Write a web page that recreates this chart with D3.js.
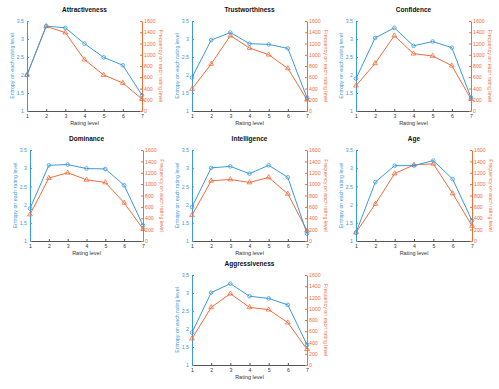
<!DOCTYPE html>
<head>
<meta charset="utf-8">
<title>Entropy and frequency per rating level</title>
<script src="https://d3js.org/d3.v7.min.js"></script>
<style>
    body { margin: 0; background: #fff; }
    text { font-family: "Liberation Sans", Arial, sans-serif; }
</style>
</head>
<body>
<script>
    // data
    var levels = [1, 2, 3, 4, 5, 6, 7];
    var titles = ["Attractiveness", "Trustworthiness", "Confidence", "Dominance", "Intelligence", "Age", "Aggressiveness"];

    var entAttr  = [2.00, 3.36, 3.31, 2.87, 2.49, 2.27, 1.44];
    var entTrust = [1.93, 2.97, 3.18, 2.87, 2.85, 2.74, 1.37];
    var entConf  = [1.90, 3.03, 3.31, 2.81, 2.93, 2.76, 1.37];
    var entDom   = [1.89, 3.08, 3.10, 2.99, 2.98, 2.53, 1.43];
    var entIntel = [1.93, 3.01, 3.05, 2.85, 3.08, 2.75, 1.20];
    var entAge   = [1.23, 2.62, 3.07, 3.07, 3.21, 2.70, 1.56];
    var entAggr  = [1.90, 3.01, 3.26, 2.91, 2.85, 2.67, 1.56];

    var freqAttr  = [640, 1505, 1393, 913, 640, 498, 213];
    var freqTrust = [391, 836, 1339, 1120, 1001, 758, 201];
    var freqConf  = [450, 847, 1339, 1019, 978, 806, 213];
    var freqDom   = [465, 1106, 1200, 1076, 1029, 671, 212];
    var freqIntel = [453, 1059, 1082, 1029, 1118, 829, 182];
    var freqAge   = [148, 652, 1185, 1339, 1357, 835, 267];
    var freqAggr  = [468, 1025, 1268, 1025, 984, 753, 279];

    var entTicks  = [1, 1.5, 2, 2.5, 3, 3.5];
    var freqTicks = [0, 200, 400, 600, 800, 1000, 1200, 1400, 1600];

    var entropy   = [entAttr, entTrust, entConf, entDom, entIntel, entAge, entAggr];
    var frequency = [freqAttr, freqTrust, freqConf, freqDom, freqIntel, freqAge, freqAggr];

    // plot boxes (left, right, top, bottom) for each panel
    var boxes = [
        [27, 142, 21, 111],
        [192, 307, 21, 111],
        [356, 471, 21, 111],
        [30, 143, 150, 241],
        [192, 307, 150, 241],
        [356, 472, 150, 241],
        [192, 307, 275, 365]
    ];

    var blue = "#3b9ad9";
    var orange = "#ef6d3b";
    var plain = function(d) { return String(d); };

    var svg = d3.select("body")
                .append("svg")
                .attr("width", 499)
                .attr("height", 389);

    titles.forEach(function(t, i) {
        var b = boxes[i];
        var g = svg.append("g");

        var x = d3.scaleLinear().domain([1, 7]).range([b[0], b[1]]);
        var yL = d3.scaleLinear().domain([1, 3.5]).range([b[3], b[2]]);
        var yR = d3.scaleLinear().domain([0, 1600]).range([b[3], b[2]]);

        // bottom axis
        var ax = g.append("g")
            .attr("transform", "translate(0," + b[3] + ")")
            .call(d3.axisBottom(x).tickValues(levels).tickFormat(plain).tickSize(-2).tickPadding(3).tickSizeOuter(0));
        ax.select(".domain").attr("stroke", "#555");
        ax.selectAll(".tick line").attr("stroke", "#555");
        ax.selectAll("text").style("font-size", "5.2px").attr("fill", "#333");

        // left axis
        var al = g.append("g")
            .attr("transform", "translate(" + b[0] + ",0)")
            .call(d3.axisLeft(yL).tickValues(entTicks).tickFormat(plain).tickSize(-2).tickPadding(3).tickSizeOuter(0));
        al.select(".domain").attr("stroke", blue);
        al.selectAll(".tick line").attr("stroke", blue);
        al.selectAll("text").style("font-size", "5.2px").attr("fill", blue);

        // right axis
        var ar = g.append("g")
            .attr("transform", "translate(" + b[1] + ",0)")
            .call(d3.axisRight(yR).tickValues(freqTicks).tickFormat(plain).tickSize(-2).tickPadding(2).tickSizeOuter(0));
        ar.select(".domain").attr("stroke", orange);
        ar.selectAll(".tick line").attr("stroke", orange);
        ar.selectAll("text").style("font-size", "5.2px").attr("fill", orange);

        // title
        g.append("text")
            .attr("x", (b[0] + b[1]) / 2)
            .attr("y", b[2] - 9)
            .attr("text-anchor", "middle")
            .style("font-size", "6.5px")
            .attr("font-weight", "bold")
            .attr("fill", "#111")
            .text(t);

        g.append("text")
            .attr("x", (b[0] + b[1]) / 2)
            .attr("y", b[3] + 14)
            .attr("text-anchor", "middle")
            .style("font-size", "5.5px")
            .attr("fill", "#333")
            .text("Rating level");

        g.append("text")
            .attr("transform", "translate(" + (b[0] - 13) + "," + ((b[2] + b[3]) / 2) + ") rotate(-90)")
            .attr("text-anchor", "middle")
            .style("font-size", "5.3px")
            .attr("fill", blue)
            .text("Entropy on each rating level");

        g.append("text")
            .attr("transform", "translate(" + (b[1] + 17) + "," + ((b[2] + b[3]) / 2) + ") rotate(90)")
            .attr("text-anchor", "middle")
            .style("font-size", "5.3px")
            .attr("fill", orange)
            .text("Frequency on each rating level");

        // frequency line
        var fLine = d3.line()
            .x(function(d, k) { return x(levels[k]); })
            .y(function(d) { return yR(d); });
        g.append("path")
            .datum(frequency[i])
            .attr("d", fLine)
            .attr("fill", "none")
            .attr("stroke", orange)
            .attr("stroke-width", 1);
        g.selectAll(".tri")
            .data(frequency[i])
            .enter()
            .append("path")
            .attr("class", "tri")
            .attr("transform", function(d, k) { return "translate(" + x(levels[k]) + "," + yR(d) + ")"; })
            .attr("d", d3.symbol().type(d3.symbolTriangle).size(10))
            .attr("fill", "none")
            .attr("stroke", orange)
            .attr("stroke-width", 0.8);

        // entropy line
        var eLine = d3.line()
            .x(function(d, k) { return x(levels[k]); })
            .y(function(d) { return yL(d); });
        g.append("path")
            .datum(entropy[i])
            .attr("d", eLine)
            .attr("fill", "none")
            .attr("stroke", blue)
            .attr("stroke-width", 1);
        g.selectAll(".dot")
            .data(entropy[i])
            .enter()
            .append("circle")
            .attr("class", "dot")
            .attr("cx", function(d, k) { return x(levels[k]); })
            .attr("cy", function(d) { return yL(d); })
            .attr("r", 1.8)
            .attr("fill", "none")
            .attr("stroke", blue)
            .attr("stroke-width", 0.8);
    });
</script>
</body>
</html>
